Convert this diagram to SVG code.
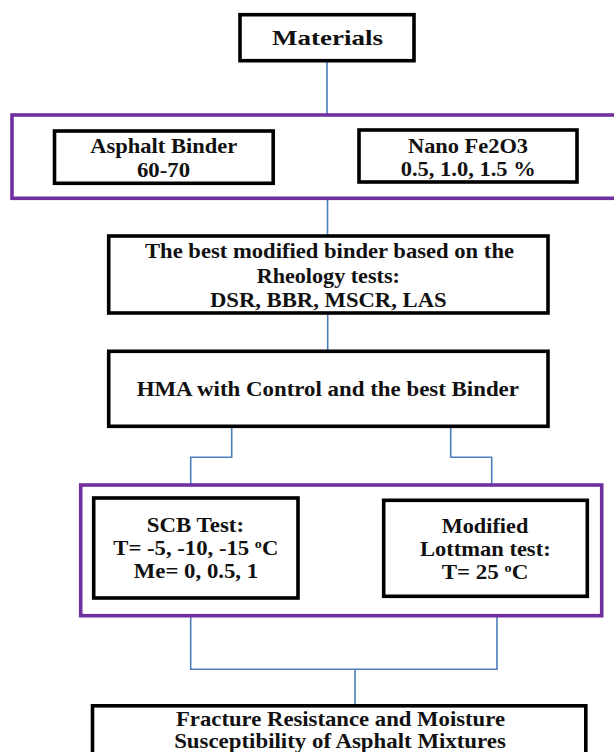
<svg xmlns="http://www.w3.org/2000/svg" width="614" height="752" viewBox="0 0 614 752">
<style>
.box{fill:#fff;stroke:#000;stroke-width:3.6}
.grp{fill:none;stroke:#7030A0;stroke-width:3.6}
.con{fill:none;stroke:#4A7EBB;stroke-width:1.6}
text{font-family:"Liberation Serif","Times New Roman",serif;font-weight:bold;fill:#111;text-anchor:middle;font-size:21px}
.sup{font-size:13px}
</style>
<rect width="614" height="752" fill="#fff"/>
<g id="connectors">
<line class="con" x1="327" y1="62" x2="327" y2="114"/>
<line class="con" x1="327.5" y1="199" x2="327.5" y2="235"/>
<line class="con" x1="327.7" y1="315" x2="327.7" y2="350"/>
<polyline class="con" points="231.7,428 231.7,457.3 190.7,457.3 190.7,484"/>
<polyline class="con" points="450.7,428 450.7,457.3 491.7,457.3 491.7,484"/>
<polyline class="con" points="190.7,616 190.7,669.3 497,669.3 497,616"/>
<line class="con" x1="355" y1="669.3" x2="355" y2="704"/>
</g>
<g id="materials">
<rect class="box" x="240" y="14.7" width="174" height="46" stroke-width="4"/>
<text x="327.5" y="45" font-size="24" textLength="111" lengthAdjust="spacingAndGlyphs">Materials</text>
</g>
<g id="group-binders">
<rect class="grp" x="12" y="115" width="612" height="83.3"/>
</g>
<g id="asphalt-binder">
<rect class="box" x="54.5" y="131" width="218.7" height="52.3"/>
<text x="163.7" y="153.3" textLength="147" lengthAdjust="spacingAndGlyphs">Asphalt Binder</text>
<text x="163.5" y="177.3" textLength="53" lengthAdjust="spacingAndGlyphs">60-70</text>
</g>
<g id="nano-fe2o3">
<rect class="box" x="359" y="130" width="218" height="52"/>
<text x="468" y="152.7" textLength="120" lengthAdjust="spacingAndGlyphs">Nano Fe2O3</text>
<text x="468.2" y="176" textLength="135" lengthAdjust="spacingAndGlyphs">0.5, 1.0, 1.5 %</text>
</g>
<g id="best-binder">
<rect class="box" x="108.7" y="236" width="439.3" height="77"/>
<text x="329.5" y="258" textLength="369" lengthAdjust="spacingAndGlyphs">The best modified binder based on the</text>
<text x="328.3" y="283" textLength="143.3" lengthAdjust="spacingAndGlyphs">Rheology tests:</text>
<text x="328.3" y="307.3" textLength="236.7" lengthAdjust="spacingAndGlyphs">DSR, BBR, MSCR, LAS</text>
</g>
<g id="hma">
<rect class="box" x="108.7" y="351.3" width="439.3" height="75"/>
<text x="327.8" y="396" textLength="382.3" lengthAdjust="spacingAndGlyphs">HMA with Control and the best Binder</text>
</g>
<g id="group-tests">
<rect class="grp" x="80.7" y="485" width="521" height="130.7"/>
</g>
<g id="scb-test">
<rect class="box" x="93.7" y="498" width="204.3" height="100"/>
<text x="195.4" y="531.7" textLength="97.3" lengthAdjust="spacingAndGlyphs">SCB Test:</text>
<text x="195.8" y="555" textLength="165" lengthAdjust="spacingAndGlyphs">T= -5, -10, -15 <tspan class="sup" baseline-shift="super">o</tspan>C</text>
<text x="196" y="578.3" textLength="124.3" lengthAdjust="spacingAndGlyphs">Me= 0, 0.5, 1</text>
</g>
<g id="lottman-test">
<rect class="box" x="383.7" y="500.3" width="203.6" height="96"/>
<text x="485" y="532.7" textLength="86.7" lengthAdjust="spacingAndGlyphs">Modified</text>
<text x="485.3" y="556" textLength="130.7" lengthAdjust="spacingAndGlyphs">Lottman test:</text>
<text x="485" y="579.3" textLength="86.7" lengthAdjust="spacingAndGlyphs">T= 25 <tspan class="sup" baseline-shift="super">o</tspan>C</text>
</g>
<g id="result">
<rect class="box" x="92.5" y="705.8" width="493.3" height="80" stroke-width="5"/>
<text x="340.5" y="726" font-size="22" textLength="329" lengthAdjust="spacingAndGlyphs">Fracture Resistance and Moisture</text>
<text x="340" y="747.7" font-size="22" textLength="331.7" lengthAdjust="spacingAndGlyphs">Susceptibility of Asphalt Mixtures</text>
</g>
</svg>
